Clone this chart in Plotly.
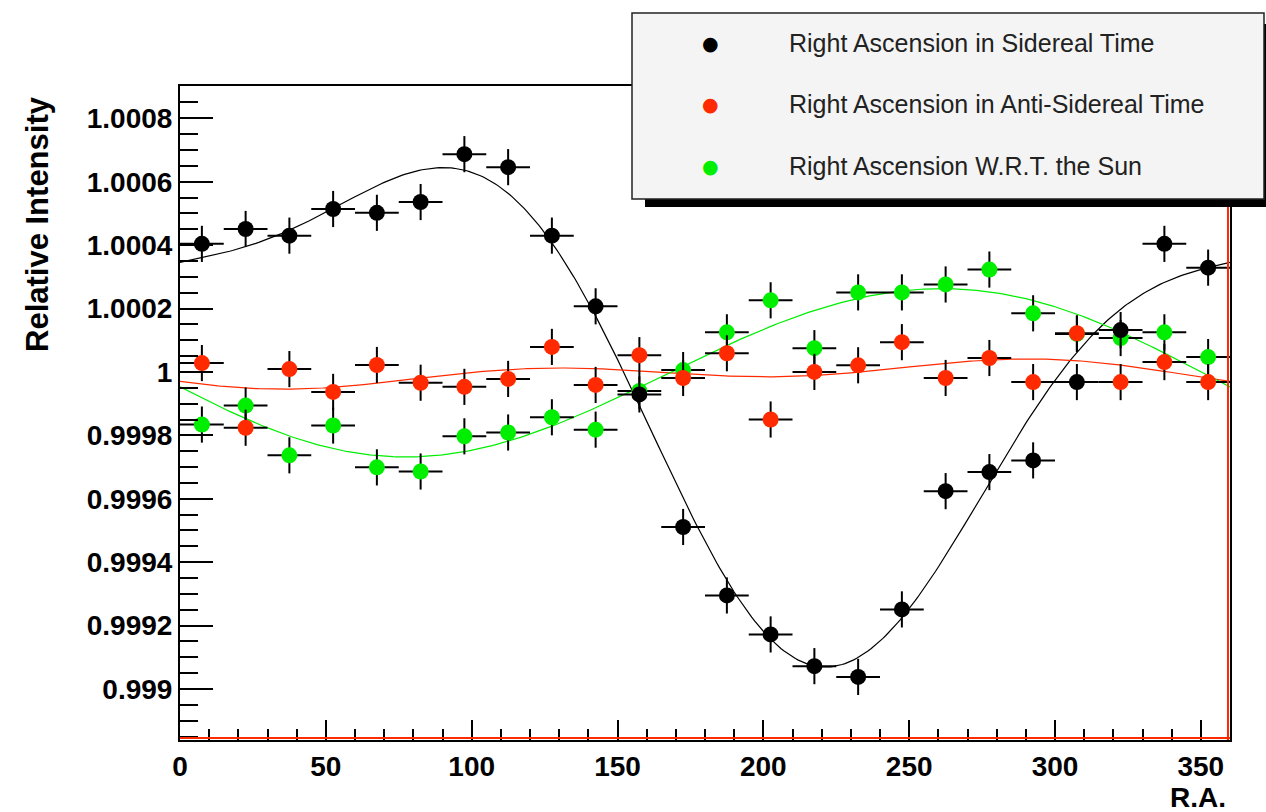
import numpy as np
import plotly.graph_objects as go

# Bin centres in right ascension (15-degree bins)
ra = [7.5, 22.5, 37.5, 52.5, 67.5, 82.5, 97.5, 112.5, 127.5, 142.5, 157.5, 172.5,
      187.5, 202.5, 217.5, 232.5, 247.5, 262.5, 277.5, 292.5, 307.5, 322.5, 337.5, 352.5]
ra_half_width = 7.5
intensity_err = 0.000057

sidereal = [1.000404, 1.000451, 1.000430, 1.000514, 1.000502, 1.000536, 1.000687, 1.000646,
            1.000430, 1.000207, 0.999929, 0.999511, 0.999295, 0.999172, 0.999072, 0.999038,
            0.999251, 0.999624, 0.999684, 0.999721, 0.999968, 1.000132, 1.000404, 1.000329]

anti_sidereal = [1.000028, 0.999824, 1.000009, 0.999937, 1.000022, 0.999966, 0.999953, 0.999978,
                 1.000079, 0.999959, 1.000053, 0.999981, 1.000059, 0.999850, 1.000000, 1.000021,
                 1.000094, 0.999981, 1.000044, 0.999968, 1.000122, 0.999968, 1.000031, 0.999968]

solar = [0.999834, 0.999894, 0.999737, 0.999831, 0.999699, 0.999686, 0.999797, 0.999809,
         0.999857, 0.999818, 0.999940, 1.000006, 1.000125, 1.000226, 1.000075, 1.000251,
         1.000251, 1.000276, 1.000323, 1.000185, 1.000120, 1.000107, 1.000125, 1.000047]

series_names = ["Right Ascension in Sidereal Time",
                "Right Ascension in Anti-Sidereal Time",
                "Right Ascension W.R.T. the Sun"]
series_colors = ["#000000", "#ff2a00", "#00ee00"]

y_tick_vals = [0.999, 0.9992, 0.9994, 0.9996, 0.9998, 1.0, 1.0002, 1.0004, 1.0006, 1.0008]
y_tick_text = ["0.999", "0.9992", "0.9994", "0.9996", "0.9998", "1",
               "1.0002", "1.0004", "1.0006", "1.0008"]
x_tick_vals = [0, 50, 100, 150, 200, 250, 300, 350]

X_RANGE = [0, 360]
Y_RANGE = [0.998839, 1.000902]


def harmonic_fit(x_deg, y, n_harm=2):
    """Least-squares fit of a constant plus n harmonics in RA; returns a callable."""
    x = np.radians(np.asarray(x_deg))
    cols = [np.ones_like(x)]
    for k in range(1, n_harm + 1):
        cols += [np.cos(k * x), np.sin(k * x)]
    coef, *_ = np.linalg.lstsq(np.column_stack(cols), np.asarray(y), rcond=None)

    def f(xx):
        t = np.radians(np.asarray(xx))
        out = np.full_like(t, coef[0], dtype=float)
        for k in range(1, n_harm + 1):
            out += coef[2 * k - 1] * np.cos(k * t) + coef[2 * k] * np.sin(k * t)
        return out
    return f


fig = go.Figure()
x_fine = np.linspace(0, 360, 361)

# Fitted harmonic curves
for vals, color in zip([sidereal, anti_sidereal, solar], series_colors):
    fit = harmonic_fit(ra, vals, 2)
    fig.add_trace(go.Scatter(x=x_fine, y=fit(x_fine), mode="lines",
                             line=dict(color=color, width=1.2),
                             showlegend=False, hoverinfo="skip"))

# Data points: green first, then red, then black on top
for vals, name, color in [(solar, series_names[2], series_colors[2]),
                          (anti_sidereal, series_names[1], series_colors[1]),
                          (sidereal, series_names[0], series_colors[0])]:
    fig.add_trace(go.Scatter(
        x=ra, y=vals, mode="markers", name=name,
        marker=dict(color=color, size=16, line=dict(width=0)),
        error_x=dict(type="constant", value=ra_half_width, color="black",
                     thickness=2, width=0),
        error_y=dict(type="constant", value=intensity_err, color="black",
                     thickness=2, width=0),
        showlegend=False,
    ))

# Plot-area pixel geometry used to place the legend box and titles
L, R, T, B = 180, 1230, 86, 740
W, H = R - L, B - T


def px(xp):
    return (xp - L) / W


def py(yp):
    return (B - yp) / H


shapes = [
    # red lines running along the bottom and right frame edges
    dict(type="line", xref="paper", yref="paper", x0=0, x1=1, y0=2, y1=2,
         ysizemode="pixel", yanchor=0, line=dict(color="#ff2a00", width=2), layer="above"),
    dict(type="line", xref="paper", yref="paper", x0=-2, x1=-2, y0=0, y1=1,
         xsizemode="pixel", xanchor=1, line=dict(color="#ff2a00", width=2), layer="above"),
    # legend shadow and box
    dict(type="rect", xref="paper", yref="paper", x0=px(645), x1=px(1275),
         y0=py(207), y1=py(24), fillcolor="black", line=dict(width=0), layer="above"),
    dict(type="rect", xref="paper", yref="paper", x0=px(632), x1=px(1264),
         y0=py(199), y1=py(13), fillcolor="#f4f4f4", line=dict(color="#222222", width=1.5),
         layer="above"),
]

annotations = []
row_y = [43, 104, 166]
for name, color, yr in zip(series_names, series_colors, row_y):
    annotations.append(dict(xref="paper", yref="paper", x=px(710), y=py(yr),
                            text="●", showarrow=False, xanchor="center", yanchor="middle",
                            font=dict(family="DejaVu Sans", size=19, color=color)))
    annotations.append(dict(xref="paper", yref="paper", x=px(787), y=py(yr),
                            text=name, showarrow=False, xanchor="left", yanchor="middle",
                            font=dict(family="Liberation Sans", size=25, color="#222222")))

annotations.append(dict(xref="paper", yref="paper", x=px(38), y=py(94),
                        text="Relative Intensity", textangle=-90, showarrow=False,
                        xanchor="center", yanchor="top",
                        font=dict(family="Liberation Sans", size=31, color="black",
                                  weight="bold")))
annotations.append(dict(xref="paper", yref="paper", x=px(1228), y=py(780),
                        text="R.A.", showarrow=False, xanchor="right", yanchor="top",
                        font=dict(family="Liberation Sans", size=28, color="black",
                                  weight="bold")))

tick_font = dict(family="Liberation Sans", size=28, color="black", weight="bold")

fig.update_layout(
    width=1266, height=812,
    margin=dict(l=L, r=1266 - R, t=T, b=812 - B),
    paper_bgcolor="white", plot_bgcolor="white",
    showlegend=False,
    shapes=shapes, annotations=annotations,
    xaxis=dict(range=X_RANGE, tickvals=x_tick_vals, ticks="inside", ticklen=20,
               tickwidth=2, tickcolor="black", showgrid=False, zeroline=False,
               showline=True, linecolor="black", linewidth=2, mirror=True,
               minor=dict(dtick=10, tick0=0, ticks="inside", ticklen=11, tickwidth=2,
                          tickcolor="black", showgrid=False),
               tickfont=tick_font),
    yaxis=dict(range=Y_RANGE, tickvals=y_tick_vals, ticktext=y_tick_text, ticks="inside",
               ticklen=33, tickwidth=2, tickcolor="black", showgrid=False, zeroline=False,
               showline=True, linecolor="black", linewidth=2, mirror=True,
               minor=dict(dtick=0.00005, tick0=0.999, ticks="inside", ticklen=18,
                          tickwidth=2, tickcolor="black", showgrid=False),
               tickfont=tick_font),
)

fig.write_html("out.html")
